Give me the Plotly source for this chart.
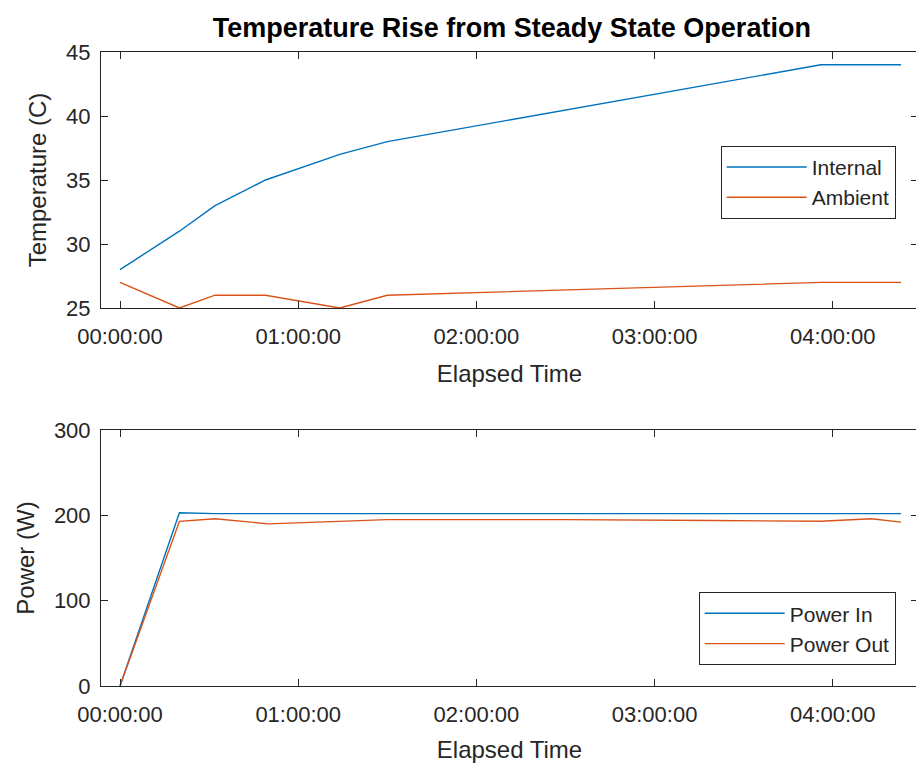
import pandas as pd
import plotly.graph_objects as go
from plotly.subplots import make_subplots

# elapsed time in minutes
temp_minutes = [0, 20, 32, 49, 74, 90, 236, 263]
internal_temp = [28, 31, 33, 35, 37, 38, 44, 44]
ambient_temp = [27, 25, 26, 26, 25, 26, 27, 27]

power_minutes = [0, 20, 32, 50, 90, 150, 200, 236, 253, 263]
power_in = [0, 203, 202, 202, 202, 202, 202, 202, 202, 202]
power_out = [0, 193, 196, 190, 195, 195, 194, 193, 196, 192]

base = pd.Timestamp("2000-01-01 00:00:00")
def to_time(mins):
    return [base + pd.Timedelta(minutes=m) for m in mins]

blue = "#0072BD"
orange = "#D95319"
ink = "#262626"
font = "Liberation Sans, Arial, sans-serif"

fig = make_subplots(rows=2, cols=1, vertical_spacing=0.1924)

fig.add_trace(go.Scatter(x=to_time(temp_minutes), y=internal_temp, mode="lines", name="Internal",
                         line=dict(color=blue, width=1.4), legend="legend"), row=1, col=1)
fig.add_trace(go.Scatter(x=to_time(temp_minutes), y=ambient_temp, mode="lines", name="Ambient",
                         line=dict(color=orange, width=1.4), legend="legend"), row=1, col=1)
fig.add_trace(go.Scatter(x=to_time(power_minutes), y=power_in, mode="lines", name="Power In",
                         line=dict(color=blue, width=1.4), legend="legend2"), row=2, col=1)
fig.add_trace(go.Scatter(x=to_time(power_minutes), y=power_out, mode="lines", name="Power Out",
                         line=dict(color=orange, width=1.4), legend="legend2"), row=2, col=1)

xrange = [base + pd.Timedelta(minutes=-6.4), base + pd.Timedelta(minutes=268.7)]
axis_style = dict(showline=True, linecolor=ink, linewidth=1, mirror="ticks", ticks="inside",
                  ticklen=7, tickcolor=ink, showgrid=False, zeroline=False, automargin=False,
                  tickfont=dict(family=font, size=22, color=ink),
                  title_font=dict(family=font, size=24, color=ink))

fig.update_xaxes(axis_style, type="date", range=xrange, tickformat="%H:%M:%S",
                 tick0=base, dtick=3600000, ticklabelstandoff=9,
                 title_text="Elapsed Time", title_standoff=16, row=1, col=1)
fig.update_xaxes(axis_style, type="date", range=xrange, tickformat="%H:%M:%S",
                 tick0=base, dtick=3600000, ticklabelstandoff=9,
                 title_text="Elapsed Time", title_standoff=14, row=2, col=1)

fig.update_yaxes(axis_style, range=[25, 45], dtick=5, ticklabelstandoff=5,
                 title_text="Temperature (C)", title_standoff=12, row=1, col=1)
fig.update_yaxes(axis_style, range=[0, 300], dtick=100, ticklabelstandoff=5,
                 title_text="Power (W)", title_standoff=12, row=2, col=1)

legend_style = dict(bgcolor="white", bordercolor=ink, borderwidth=1,
                    font=dict(family=font, size=21, color=ink), xanchor="right", yanchor="top",
                    itemwidth=80, tracegroupgap=0)

# the page has an 8px body margin, so the figure is a bit smaller than the window
fig.update_layout(
    width=916, height=763,
    margin=dict(l=93, r=6, t=44, b=85, autoexpand=False),
    paper_bgcolor="white", plot_bgcolor="white",
    title=dict(text="<b>Temperature Rise from Steady State Operation</b>", x=0.55, xanchor="center",
               y=0.975, yanchor="middle", font=dict(family=font, size=27, color="black")),
    legend=dict(legend_style, x=0.9727, y=0.852),
    legend2=dict(legend_style, x=0.9727, y=0.148),
    showlegend=True,
)

fig.write_html("out.html")
